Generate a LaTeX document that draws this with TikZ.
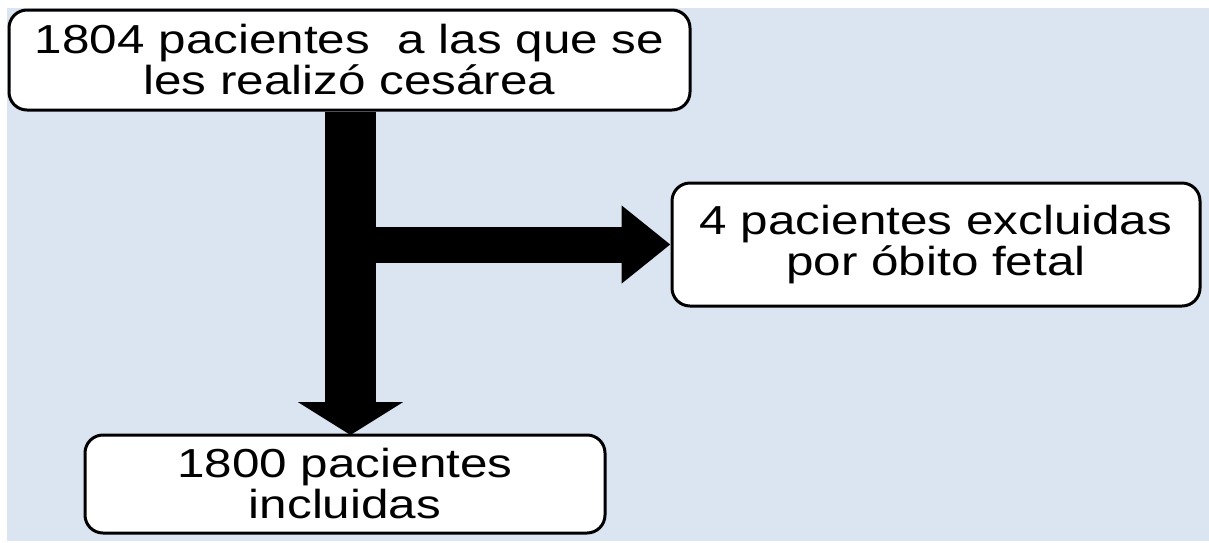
\documentclass[tikz,border=0pt]{standalone}
\usepackage{fontspec}
\setmainfont{Liberation Sans}
\newfontfamily\boxfont[FakeStretch=1.22]{Liberation Sans}
\usetikzlibrary{arrows.meta}
\definecolor{bgblue}{HTML}{DBE5F1}
\tikzset{
  flowbox/.style={draw=black, line width=3pt, fill=white, rounded corners=18pt,
    align=center, inner sep=0pt, font=\boxfont\fontsize{40.5}{41}\selectfont},
}
\begin{document}
\begin{tikzpicture}[x=1pt,y=-1pt]
\useasboundingbox (0,0) rectangle (1209,542);
\fill[white] (0,0) rectangle (1209,542);
\fill[bgblue] (7,8) rectangle (1209,541);
\node[flowbox, minimum width=681pt, minimum height=100pt] (top) at (349.5,60)
  {1804 pacientes\ \ a las que se\\les realizó cesárea};
\node[flowbox, minimum width=528pt, minimum height=123pt] (excl) at (936,244.5)
  {4 pacientes excluidas\\por óbito fetal};
\node[flowbox, minimum width=520pt, minimum height=98pt] (incl) at (345,484)
  {1800 pacientes\\incluidas};
\coordinate (vx) at (350.5,0);
\draw[line width=51pt, -{Triangle[width=104pt,length=33pt]}]
  (top.south -| vx) -- ([yshift=-1.5pt]incl.north -| vx);
\draw[line width=36pt, -{Triangle[width=75pt,length=49pt]}]
  (vx |- excl.west) -- (excl.west);
\end{tikzpicture}
\end{document}
